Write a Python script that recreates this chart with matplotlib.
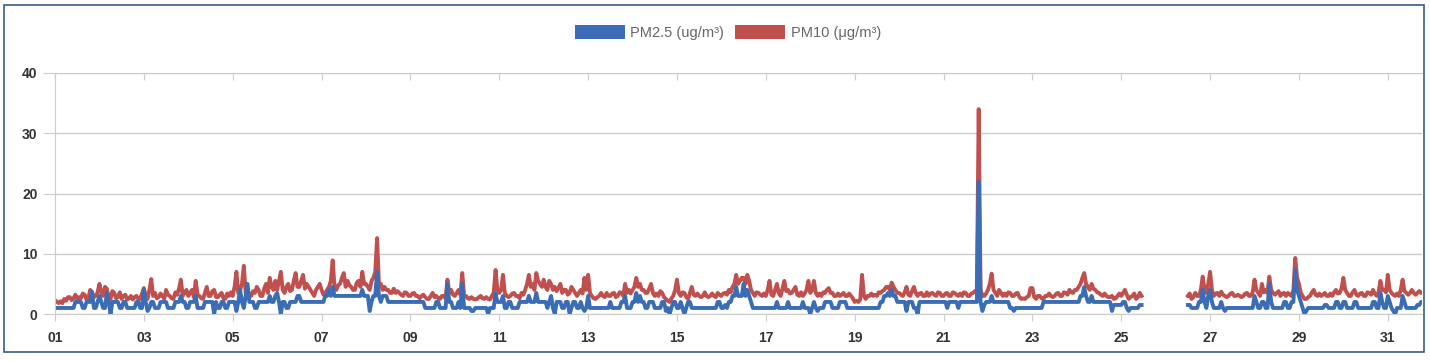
import numpy as np
import matplotlib
matplotlib.use("Agg")
import matplotlib.pyplot as plt
from matplotlib.patches import Patch, Rectangle

plt.rcParams['font.family'] = ['Liberation Sans', 'DejaVu Sans']

# Mesures horaires (00h ... 23h), une ligne par jour du mois, N = pas de mesure
N = None
pm10_rows = [
    [2.3, 2.0, 1.8, 2.1, 1.8, 2.5, 2.2, 2.8, 2.8, 2.3, 2.6, 3.2, 2.5, 2.8, 2.6, 3.4, 3.2, 2.4, 2.6, 4.0, 3.5, 2.8, 3.0, 3.6],
    [5.0, 3.6, 3.0, 4.5, 4.2, 2.8, 2.5, 3.8, 3.5, 2.6, 2.8, 3.6, 2.5, 3.0, 3.2, 2.4, 2.6, 3.0, 2.4, 2.8, 3.0, 2.5, 2.5, 3.4],
    [4.3, 3.0, 2.5, 4.0, 5.8, 3.0, 3.5, 2.6, 2.8, 3.4, 3.0, 2.5, 4.0, 3.2, 3.0, 2.6, 2.5, 3.6, 3.2, 4.2, 5.7, 3.0, 3.5, 4.0],
    [3.0, 3.5, 4.0, 2.8, 5.5, 3.2, 3.0, 2.6, 2.5, 3.5, 4.5, 3.0, 3.0, 3.8, 4.0, 2.8, 2.8, 3.2, 3.5, 2.6, 2.5, 3.4, 3.0, 3.6],
    [3.0, 4.5, 7.0, 3.5, 4.0, 5.0, 8.0, 3.5, 4.0, 3.2, 3.0, 3.8, 3.5, 4.5, 4.0, 3.0, 3.0, 4.2, 5.0, 3.5, 6.0, 4.5, 4.0, 5.5],
    [4.0, 5.5, 7.0, 4.0, 3.5, 4.5, 5.0, 3.8, 4.0, 5.5, 6.8, 4.5, 4.5, 5.5, 6.5, 4.2, 5.0, 4.5, 4.0, 3.5, 3.0, 4.0, 4.5, 5.0],
    [4.0, 3.2, 3.5, 4.0, 4.5, 5.5, 8.9, 4.5, 4.0, 4.8, 5.0, 6.0, 6.8, 4.5, 5.5, 4.8, 4.5, 4.0, 4.0, 5.2, 5.5, 4.5, 7.0, 5.0],
    [5.0, 4.5, 4.0, 5.5, 6.0, 7.0, 12.6, 5.0, 5.0, 4.0, 4.5, 4.0, 4.0, 3.5, 3.5, 4.2, 3.5, 3.8, 3.5, 3.2, 3.0, 3.6, 3.5, 3.0],
    [3.0, 3.4, 3.5, 3.0, 3.0, 2.6, 3.0, 3.2, 2.8, 2.5, 2.5, 3.0, 3.5, 2.8, 3.0, 2.6, 2.5, 3.0, 3.0, 2.6, 5.7, 3.5, 4.0, 3.2],
    [3.0, 3.5, 4.0, 3.2, 6.8, 3.0, 3.0, 2.6, 2.5, 2.8, 2.5, 2.4, 2.5, 2.8, 3.0, 2.6, 2.5, 2.8, 2.5, 2.4, 3.0, 3.5, 7.3, 4.0],
    [3.5, 4.0, 6.5, 3.5, 3.0, 2.8, 3.0, 3.4, 3.5, 3.0, 3.0, 2.6, 3.5, 3.2, 4.0, 5.0, 6.5, 4.5, 5.0, 4.0, 6.8, 5.5, 5.0, 4.5],
    [5.7, 4.5, 4.0, 5.5, 5.0, 4.0, 4.5, 3.8, 4.3, 5.0, 3.5, 4.0, 4.0, 3.2, 3.5, 4.5, 4.0, 3.5, 3.0, 3.5, 4.0, 3.4, 6.0, 4.0],
    [6.5, 3.5, 3.0, 2.6, 2.5, 2.8, 3.0, 3.5, 3.0, 2.8, 3.5, 3.0, 3.0, 3.4, 3.5, 2.8, 3.0, 3.6, 3.5, 3.0, 5.0, 3.5, 4.0, 3.4],
    [4.0, 4.5, 6.0, 4.5, 5.0, 4.0, 4.0, 3.5, 3.5, 4.2, 5.0, 3.5, 3.0, 3.4, 3.0, 3.8, 3.5, 2.8, 2.5, 2.2, 2.0, 2.6, 3.0, 4.0],
    [5.7, 3.5, 3.0, 3.6, 3.5, 2.8, 2.5, 3.5, 4.5, 3.2, 3.0, 3.4, 3.0, 2.8, 3.0, 3.6, 3.0, 2.8, 3.0, 3.4, 3.0, 2.8, 3.5, 3.2],
    [3.0, 3.4, 3.5, 3.2, 4.0, 3.6, 4.5, 5.0, 6.5, 5.0, 5.5, 6.0, 6.0, 5.0, 6.5, 5.5, 4.0, 3.5, 3.0, 3.6, 3.5, 3.2, 3.0, 3.4],
    [3.0, 4.0, 5.5, 3.2, 3.0, 4.0, 5.0, 3.5, 3.0, 4.2, 5.5, 3.8, 4.0, 3.4, 3.5, 4.0, 4.5, 3.2, 3.0, 3.6, 3.0, 3.4, 4.0, 5.5],
    [3.5, 4.0, 5.5, 3.5, 3.0, 3.4, 3.0, 3.6, 3.5, 4.0, 4.3, 3.5, 3.5, 3.0, 3.0, 3.4, 3.0, 3.2, 3.5, 3.0, 3.0, 3.4, 3.0, 2.6],
    [2.0, 2.2, 2.0, 2.4, 6.5, 3.0, 2.5, 3.0, 3.0, 3.4, 3.0, 3.2, 3.0, 3.6, 3.5, 3.8, 4.0, 4.5, 4.5, 4.0, 5.2, 4.5, 4.0, 3.5],
    [3.5, 3.2, 3.0, 3.6, 4.5, 3.2, 3.0, 3.8, 4.5, 3.5, 3.0, 3.4, 3.5, 3.0, 3.0, 3.6, 3.0, 3.4, 3.5, 3.2, 3.0, 3.6, 3.5, 3.0],
    [3.0, 3.4, 3.5, 3.0, 3.0, 3.6, 3.5, 3.2, 3.0, 3.4, 3.0, 3.6, 3.5, 3.0, 3.0, 3.4, 3.5, 3.8, 4.0, 34.0, 4.0, 3.0, 3.0, 3.4],
    [4.0, 5.0, 6.7, 4.0, 3.5, 3.0, 4.0, 3.5, 3.0, 3.4, 3.0, 3.6, 3.5, 3.0, 3.0, 3.4, 3.5, 2.8, 2.5, 2.6, 2.5, 2.8, 3.0, 4.3],
    [4.3, 2.8, 2.5, 3.0, 3.0, 2.6, 2.5, 3.0, 3.0, 3.4, 3.0, 2.8, 3.0, 3.4, 3.5, 3.0, 3.0, 3.6, 3.5, 3.2, 4.0, 3.6, 3.5, 4.0],
    [4.0, 4.5, 5.0, 6.0, 6.8, 5.0, 4.5, 4.0, 5.0, 4.2, 4.0, 3.6, 3.5, 3.2, 3.0, 3.4, 3.0, 2.8, 2.8, 3.0, 2.5, 2.6, 3.0, 3.4],
    [3.0, 3.5, 4.0, 3.2, 2.5, 2.8, 3.0, 3.4, 2.5, 2.8, 3.5, 3.0, N, N, N, N, N, N, N, N, N, N, N, N],
    [N, N, N, N, N, N, N, N, N, N, N, N, 3.0, 3.4, 2.5, 2.8, 3.5, 3.0, 3.0, 4.0, 6.2, 4.0, 3.5, 5.0],
    [7.0, 4.0, 3.0, 3.4, 3.5, 3.0, 3.7, 3.2, 3.0, 2.8, 3.0, 3.4, 3.5, 3.0, 3.0, 3.2, 3.0, 2.8, 3.0, 3.4, 3.5, 3.0, 3.0, 3.6],
    [5.7, 4.0, 3.5, 3.0, 5.0, 3.6, 4.0, 3.5, 6.2, 4.0, 3.5, 3.2, 3.5, 3.8, 3.0, 3.4, 3.5, 3.0, 3.5, 3.2, 3.0, 4.0, 9.3, 6.0],
    [5.0, 3.5, 3.0, 2.5, 2.5, 2.8, 3.0, 3.6, 4.0, 3.2, 3.0, 3.4, 3.0, 3.2, 3.5, 3.0, 3.0, 3.4, 3.0, 3.6, 4.0, 3.4, 3.5, 4.2],
    [6.0, 4.0, 3.5, 3.0, 3.0, 3.6, 4.0, 3.2, 3.0, 3.4, 3.5, 3.0, 3.0, 3.6, 3.5, 3.2, 4.0, 3.4, 3.0, 3.6, 5.5, 4.0, 4.0, 3.6],
    [6.5, 4.0, 3.5, 3.2, 3.0, 3.4, 3.0, 4.0, 5.7, 3.8, 3.5, 3.2, 3.5, 4.0, 3.5, 3.2, 3.5, 3.8, 3.5, 3.6],
]
pm25_rows = [
    [1, 1, 1, 1, 1, 1, 1, 1, 1, 1, 1, 2, 2, 2, 2, 1, 1, 2, 2, 2, 3.7, 1, 1, 2],
    [3, 2, 1, 1, 3.5, 2, 0, 2, 2, 2, 2, 1, 1, 2, 2, 1, 1, 1, 1, 1, 2, 2, 1, 1],
    [4, 2, 0.5, 1, 2, 2, 1, 1, 1, 2, 2, 2, 2, 1, 1, 1, 1, 2, 2, 2, 3, 2, 2, 1],
    [1, 2, 2, 2, 3, 1, 1, 1, 1, 2, 2, 2, 2, 2, 0, 2, 1, 1, 2, 2, 1, 1, 2, 2],
    [2, 2, 0.5, 2, 4, 2, 1, 3, 5, 2, 2, 2, 1, 1, 2, 2, 2, 2, 2, 2, 3, 2, 2, 3],
    [3.5, 2, 0, 2, 2, 1, 1, 2, 2, 2, 2, 3, 3, 2, 2, 2, 2, 2, 2, 2, 2, 2, 2, 2],
    [2, 2, 3, 3, 4, 3, 4.5, 3, 3, 3, 3, 3, 3, 3, 3, 3, 3, 3, 3, 3, 3, 3, 4, 3],
    [3, 3, 0.5, 2, 3, 3, 7, 3, 2, 3, 3, 3, 2, 2, 2, 2, 2, 2, 2, 2, 2, 2, 2, 2],
    [2, 2, 2, 2, 2, 2, 2, 2, 1, 1, 1, 1, 1, 1, 2, 2, 1, 1, 1, 1, 5, 2, 2, 1],
    [1, 1, 2, 1, 5, 1, 1, 1, 1, 0.5, 0.5, 1, 1, 1, 1, 1, 1, 1, 0, 1, 1, 1, 3.4, 2],
    [2, 2, 3, 1, 1, 2, 2, 1, 1, 1, 1, 2, 2, 2, 2, 2, 3, 2, 2, 2, 3.5, 2, 2, 2],
    [2, 2, 1, 2, 3, 1, 0, 2, 2, 2, 1, 1, 2, 2, 0, 1, 2, 2, 1, 1, 2, 1, 0.5, 1],
    [3, 1, 1, 1, 1, 1, 1, 1, 1, 1, 1, 1, 2, 1, 1, 1, 1, 1, 2, 2, 3, 1, 1, 1],
    [2, 2, 3.5, 2, 3, 2, 2, 1, 1, 2, 2, 2, 1, 1, 1, 1, 2, 2, 0.5, 1, 0, 1, 2, 2],
    [1, 1, 2, 1, 0, 1, 2, 2, 1, 1, 1, 1, 1, 1, 1, 1, 1, 1, 1, 1, 1, 1, 2, 2],
    [1, 1, 1.5, 1, 2, 2, 3, 3, 4.5, 3, 3, 3, 5, 3, 4, 3, 2, 1, 1, 1, 1, 1, 1, 1],
    [1, 1, 1, 1, 1, 1, 2, 1, 1, 1, 1, 1, 2, 1, 1, 1, 1, 1, 1, 1, 2, 1, 1, 1],
    [0, 1, 2, 1, 0.5, 1, 1, 1, 2, 2, 2, 2, 1, 1, 1, 1, 2, 2, 2, 2, 1, 1, 1, 1],
    [1, 1, 1, 1, 1, 1, 1, 1, 1, 1, 1, 1, 1, 1, 2, 2, 3, 3, 3.5, 3, 4, 3, 3, 2],
    [2, 2, 2, 2, 0.5, 2, 2, 2, 1, 1, 0, 2, 2, 2, 2, 2, 2, 2, 2, 2, 2, 2, 2, 2],
    [2, 2, 1, 2, 2, 2, 2, 2, 1, 2, 2, 2, 2, 2, 2, 2, 2, 2, 2, 22, 2, 0.5, 1.5, 2],
    [2, 2, 3, 2, 2, 2, 2, 2, 2, 2, 2, 2, 1, 1, 0.5, 1, 1, 1, 1, 1, 1, 1, 1, 1],
    [1, 1, 1, 1, 1, 1, 2, 2, 2, 2, 2, 2, 2, 2, 2, 2, 2, 2, 2, 2, 2, 2, 2, 2],
    [2, 2, 3, 3, 4.5, 3, 2, 2, 3, 2, 2, 2, 2, 2, 2, 2, 2, 2, 2, 0.5, 1.5, 1.5, 1.5, 1.5],
    [1.5, 2, 2, 1, 0.5, 1, 1, 1, 1, 1, 1.5, 1.5, N, N, N, N, N, N, N, N, N, N, N, N],
    [N, N, N, N, N, N, N, N, N, N, N, N, 1.5, 1.5, 1, 1, 1, 1, 2, 2, 4, 2, 1, 3],
    [4, 2, 1, 1, 1, 1, 2, 1, 0.5, 1, 1, 1, 1, 1, 1, 1, 1, 1, 1, 1, 1, 1, 1, 1],
    [3, 2, 1, 1, 2, 2, 1, 1, 5, 2, 1, 1, 1, 1, 1, 1, 2, 2, 1, 1, 2, 2, 7.3, 4],
    [3, 2, 1, 0, 0.5, 1, 1, 1, 1, 1, 1, 1, 1, 1, 1.5, 1.5, 1, 1, 1, 1, 2, 2, 1, 1],
    [2, 2, 1, 1, 1, 1, 2, 2, 1, 1, 1, 1, 1, 1, 1, 1, 2, 2, 1, 1, 3.5, 2, 1, 1],
    [3, 2, 1, 0.5, 0, 1, 1, 1, 3, 2, 1, 1, 1, 1, 1, 1, 1.5, 1.5, 2, 2],
]

day_ticks = list(range(1, 32, 2))
day_labels = [f"{d:02d}" for d in day_ticks]

# Axe du temps en jours décimaux
x = []
for i, row in enumerate(pm10_rows):
    for h in range(len(row)):
        x.append(i + 1 + h / 24)
x = np.array(x)
pm10 = np.array([np.nan if v is None else v for row in pm10_rows for v in row], dtype=float)
pm25 = np.array([np.nan if v is None else v for row in pm25_rows for v in row], dtype=float)

blue = "#3a6db5"
red = "#c0504d"
grey = "#cccccc"

fig = plt.figure(figsize=(14.3, 3.61), dpi=100)
ax = fig.add_axes([55 / 1430, 1 - 314 / 361, (1422 - 55) / 1430, (314 - 73) / 361])

ax.plot(x, pm10, color=red, lw=2.8)
ax.plot(x, pm25, color=blue, lw=2.8)

ax.set_xlim(1, 31.77)
ax.set_ylim(0, 40)
ax.set_yticks([0, 10, 20, 30, 40])
ax.set_xticks(day_ticks)
ax.set_xticklabels(day_labels)

ax.grid(axis="y", color=grey, lw=1)
ax.set_axisbelow(True)
for side in ["left", "top", "bottom"]:
    ax.spines[side].set_color(grey)
ax.spines["right"].set_visible(False)

ax.tick_params(axis="y", length=8.6, color=grey, pad=4, labelsize=10, labelcolor="#333333")
ax.tick_params(axis="x", length=5, color=grey, pad=7, labelsize=10, labelcolor="#333333")
for lbl in ax.get_xticklabels() + ax.get_yticklabels():
    lbl.set_fontweight("bold")

# petites graduations en haut du graphique
top = ax.secondary_xaxis("top")
top.set_xticks(day_ticks)
top.tick_params(direction="in", length=5, color=grey, labeltop=False)
top.spines["top"].set_visible(False)

handles = [Patch(facecolor=blue), Patch(facecolor=red)]
fig.legend(handles, ["PM2.5 (ug/m³)", "PM10 (μg/m³)"], loc="center",
           bbox_to_anchor=(0.509, 0.911), ncol=2, frameon=False, fontsize=10.5,
           labelcolor="#666666", handlelength=3.4, handleheight=1.1,
           handletextpad=0.4, columnspacing=0.75)

fig.add_artist(Rectangle((4 / 1430, 1 - 352 / 361), 1420 / 1430, 347 / 361,
                         transform=fig.transFigure, fill=False,
                         edgecolor="#3b5a8c", lw=1.2))

fig.savefig("out.png", dpi=100)
